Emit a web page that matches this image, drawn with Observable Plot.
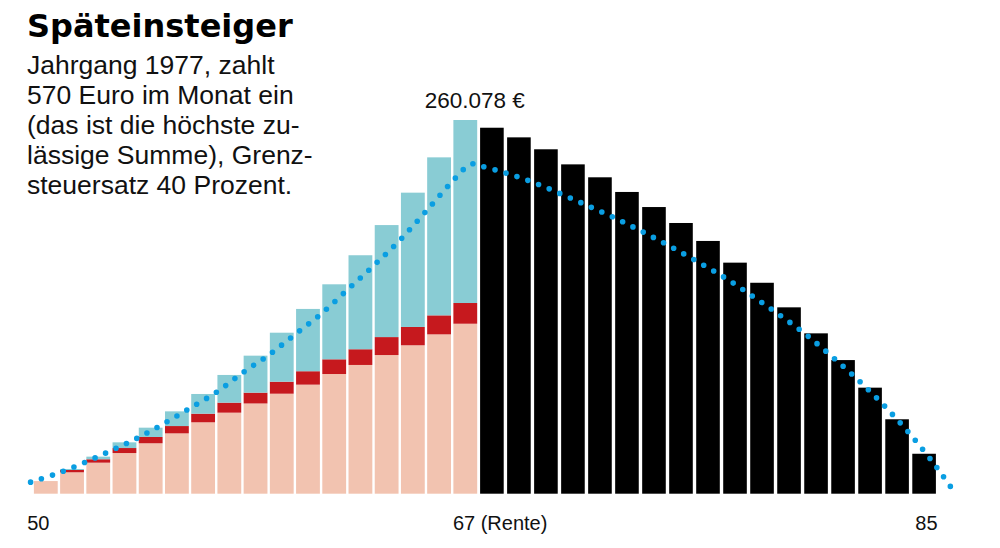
<!DOCTYPE html>
<html><head><meta charset="utf-8">
<script src="https://cdn.jsdelivr.net/npm/d3@7"></script>
<script src="https://cdn.jsdelivr.net/npm/@observablehq/plot@0.6"></script>
<style>
body{margin:0;background:#fff;}
#wrap{position:relative;width:1000px;height:548px;overflow:hidden;}
#title{position:absolute;left:27px;top:7px;font:700 32px/38px "DejaVu Sans";color:#000;white-space:nowrap;}
#sub{position:absolute;left:27px;top:50px;font:400 26.5px/30px "Liberation Sans";color:#111;white-space:nowrap;}
</style></head><body>
<div id="wrap"><div id="chart"></div>
<div id="title">Späteinsteiger</div>
<div id="sub">Jahrgang 1977, zahlt<br>570 Euro im Monat ein<br>(das ist die höchste zu-<br>lässige Summe), Grenz-<br>steuersatz 40 Prozent.</div>
</div>
<script>
// Ansparphase (Alter 50–66)
const agesSaving = [50,51,52,53,54,55,56,57,58,59,60,61,62,63,64,65,66];
const ownContribution = [8800,14900,21600,28300,35100,42000,49700,56400,62800,69600,75900,83300,89600,96500,103300,110900,118300];
const taxSaving = [0,1600,2370,3480,4380,5080,5990,6960,7520,8350,9330,10230,10930,12500,12740,13220,14410];
const growth = [0,700,1810,3970,6470,10230,13710,19280,25750,34100,43360,52200,65420,77950,93470,109960,127368];
// Auszahlphase (Alter 67–83)
const agesPayout = [67,68,69,70,71,72,73,74,75,76,77,78,79,80,81,82,83];
const payout = [254700,248000,239700,229200,220200,210000,199500,188400,175900,160800,146800,129700,111600,93000,73800,51800,27800];
// punktierte Linie
const lineAges = [49.9,50,51,52,53,54,55,56,57,58,59,60,61,62,63,64,65,66,66.7,67,68,69,70,71,72,73,74,75,76,77,78,79,80,81,82,83,84,84.6];
const lineValues = [8400,8900,15000,22400,30600,39300,49300,60100,71100,84600,97100,111400,125800,142500,159300,177100,197200,218000,229800,228700,223500,217100,209300,201000,192500,183200,173300,162800,151900,139500,126500,112700,97000,80200,61700,41000,17400,1400];
// Beschriftungen
const peakAge = 66;
const peakValue = 260078;
const peakLabel = "260.078 €";
const tickAges = [50, 67, 85];
const tickLabels = ["50", "67 (Rente)", "85"];

const segColors = {own: "#f2c3b0", tax: "#c6191e", growth: "#89ccd4"};

const stacked = [];
agesSaving.forEach((a, i) => {
  const v = [["own", ownContribution[i]], ["tax", taxSaving[i]], ["growth", growth[i]]];
  let base = 0;
  for (const [seg, val] of v) {
    stacked.push({age: a, seg, y1: base, y2: base + val});
    base += val;
  }
});
const payoutData = agesPayout.map((a, i) => ({age: a, value: payout[i]}));
const lineData = lineAges.map((a, i) => ({age: a, value: lineValues[i]}));
const ticks = tickAges.map((a, i) => ({age: a, label: tickLabels[i]}));

const font = "Liberation Sans";
const chart = Plot.plot({
  width: 1000,
  height: 548,
  margin: 0,
  style: {fontFamily: font, background: "transparent"},
  x: {type: "linear", domain: [50, 67, 84], range: [32.7, 478.4, 937.6], axis: null},
  y: {domain: [0, peakValue], range: [493.7, 120], axis: null},
  marks: [
    Plot.rect(stacked, {x1: "age", x2: d => d.age + 1, y1: "y1", y2: "y2", fill: d => segColors[d.seg], insetLeft: 1.2, insetRight: 1.2}),
    Plot.rect(payoutData, {x1: "age", x2: d => d.age + 1, y1: 0, y2: "value", fill: "#000", insetLeft: 1.7, insetRight: 1.7}),
    Plot.line(lineData, {x: "age", y: "value", curve: "catmull-rom", stroke: "#0a9ee2", strokeWidth: 5.6, strokeDasharray: "0 11.5", strokeLinecap: "round"}),
    Plot.text([peakValue], {x: peakAge + 0.5, y: d => d, text: () => peakLabel, dy: -13, dx: 9, fontSize: 22.5, fill: "#111", textAnchor: "middle", lineAnchor: "bottom"}),
    Plot.text([ticks[0]], {x: "age", y: 0, text: "label", fontSize: 20, fill: "#111", textAnchor: "start", dx: -6, dy: 36, lineAnchor: "bottom"}),
    Plot.text([ticks[1]], {x: "age", y: 0, text: "label", fontSize: 20, fill: "#111", textAnchor: "start", dx: -26, dy: 36, lineAnchor: "bottom"}),
    Plot.text([ticks[2]], {x: "age", y: 0, text: "label", fontSize: 20, fill: "#111", textAnchor: "end", dx: -27.5, dy: 36, lineAnchor: "bottom"})
  ]
});
document.getElementById("chart").appendChild(chart);
</script>
</body></html>
